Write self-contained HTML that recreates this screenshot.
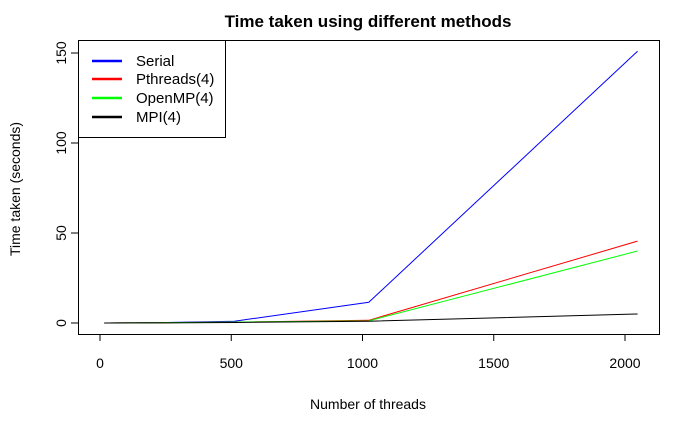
<!DOCTYPE html>
<html><head><meta charset="utf-8"><style>body{margin:0;background:#fff}svg{display:block;font-family:"Liberation Sans",Arial,sans-serif}</style></head>
<body>
<svg id="chart" width="700" height="432" viewBox="0 0 700 432" xmlns="http://www.w3.org/2000/svg">
<rect width="700" height="432" fill="#fff"/>
<text x="368" y="27" text-anchor="middle" font-size="17" font-weight="bold">Time taken using different methods</text>
<text x="368" y="409" text-anchor="middle" font-size="14">Number of threads</text>
<text transform="translate(20,189) rotate(-90)" text-anchor="middle" font-size="14">Time taken (seconds)</text>
<rect x="78.5" y="40.5" width="581" height="294" fill="none" stroke="#000"/>
<g id="axes"></g>
<g id="series"></g>
<g>
<rect x="78.5" y="40.5" width="147" height="97" fill="#fff" stroke="#000"/>
<line x1="92" y1="61" x2="122" y2="61" stroke="#0000ff" stroke-width="2.5"/>
<line x1="92" y1="79" x2="122" y2="79" stroke="#ff0000" stroke-width="2.5"/>
<line x1="92" y1="98" x2="122" y2="98" stroke="#00ff00" stroke-width="2.5"/>
<line x1="92" y1="117" x2="122" y2="117" stroke="#000" stroke-width="2.5"/>
<text x="136" y="66" font-size="15">Serial</text>
<text x="136" y="84" font-size="15">Pthreads(4)</text>
<text x="136" y="103" font-size="15">OpenMP(4)</text>
<text x="136" y="122" font-size="15">MPI(4)</text>
</g>
</svg>
<script>
const threads = [16, 32, 64, 128, 256, 512, 1024, 2048];
const serial = [0.01, 0.02, 0.05, 0.1, 0.3, 1.0, 11.5, 151];
const pthreads = [0.01, 0.02, 0.04, 0.08, 0.2, 0.5, 1.5, 45.5];
const openmp = [0.01, 0.02, 0.04, 0.08, 0.2, 0.5, 1.2, 40];
const mpi = [0.01, 0.01, 0.02, 0.05, 0.1, 0.3, 1.0, 5];
const xTicks = [0, 500, 1000, 1500, 2000];
const yTicks = [0, 50, 100, 150];
const NS = 'http://www.w3.org/2000/svg';
function xs(v){return 100 + v * 0.2625;}
function ys(v){return 323 - v * 1.8;}
function mk(tag, attrs, parent){const e=document.createElementNS(NS,tag);for(const k in attrs)e.setAttribute(k,attrs[k]);parent.appendChild(e);return e;}
const ax = document.getElementById('axes');
xTicks.forEach(t=>{
  const l = mk('line',{x1:xs(t),x2:xs(t),y1:334,y2:341,stroke:'#000'},ax);
  
  
  const tx = mk('text',{x:xs(t),y:368,'text-anchor':'middle','font-size':14},ax);
  
  
  tx.textContent = t;
});
yTicks.forEach(t=>{
  const l = mk('line',{x1:71,x2:78,y1:ys(t),y2:ys(t),stroke:'#000'},ax);
  
  
  const tx = mk('text',{transform:`translate(66,${ys(t)}) rotate(-90)`,'text-anchor':'middle','font-size':14},ax);
  
  
  tx.textContent = t;
});
const sg = document.getElementById('series');
[[serial,'#0000ff','serial-line'],[pthreads,'#ff0000','pthreads-line'],[openmp,'#00ff00','openmp-line'],[mpi,'#000000','mpi-line']].forEach(([d,c,n])=>{
  const p = mk('polyline',{points:threads.map((x,i)=>xs(x)+','+ys(d[i])).join(' '),fill:'none',stroke:c,'stroke-width':1},sg);
  
  
});
</script>
</body></html>
